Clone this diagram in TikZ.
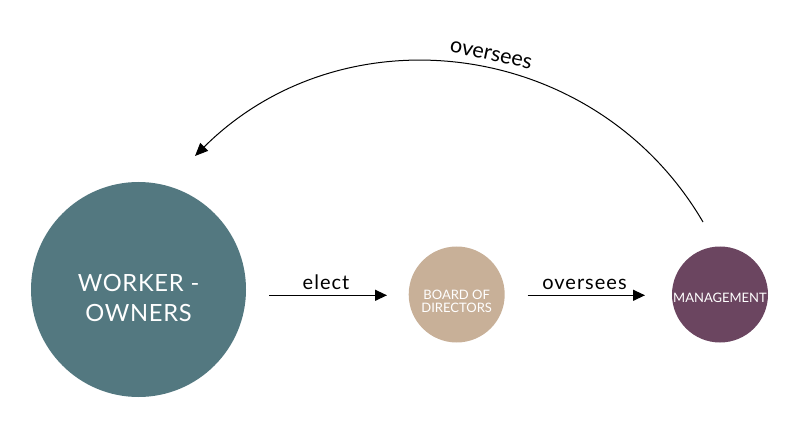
\documentclass[tikz,border=0pt]{standalone}
\usepackage{fontspec}
\setmainfont{Lato}
\newfontfamily\lblfont[LetterSpace=5]{Lato}
\newfontfamily\capfont[LetterSpace=3]{Lato}
\usetikzlibrary{arrows.meta}
\definecolor{workerc}{RGB}{83,120,128}
\definecolor{boardc}{RGB}{200,176,152}
\definecolor{mgmtc}{RGB}{107,69,96}
\tikzset{
  bubble/.style={circle,inner sep=0pt},
  btext/.style={text=white,align=center,inner sep=0pt},
  flow/.style={-{Triangle[length=12pt,width=11pt]},line width=1.3pt,black},
  lbl/.style={font=\lblfont\fontsize{20}{22}\selectfont,inner sep=0pt},
  arclbl/.style={font=\fontsize{21.5}{23}\selectfont,inner sep=0pt}
}
\begin{document}
\begin{tikzpicture}[x=1pt,y=-1pt]
\useasboundingbox (0,0) rectangle (790,422);
\node[bubble,fill=workerc,minimum size=215pt] (w) at (138.5,289.5) {};
\node[bubble,fill=boardc,minimum size=96pt] (b) at (456.7,294.5) {};
\node[bubble,fill=mgmtc,minimum size=96pt] (m) at (720,294.5) {};
\node[btext,font=\capfont\fontsize{23.7}{30}\selectfont] (wt) at (138.5,298.5) {WORKER -\\OWNERS};
\node[btext,font=\fontsize{13}{12.8}\selectfont] (bt) at (456.7,301) {BOARD OF\\DIRECTORS};
\node[btext,font=\fontsize{13}{14}\selectfont] (mt) at (720,298) {MANAGEMENT};
\coordinate (e1) at (269,295.3);
\coordinate (e2) at (387,295.3);
\coordinate (o1) at (527.5,295.3);
\coordinate (o2) at (645,295.3);
\coordinate (c1) at (703,222);
\coordinate (c2) at (195,156);
\draw[flow] (e1) -- (e2);
\draw[flow] (o1) -- (o2);
\node[lbl,anchor=base] (el) at (326,289) {elect};
\node[lbl,anchor=base] (ol) at (584.5,289) {oversees};
\draw[flow,line width=1pt,-{Triangle[length=13pt,width=11pt]}] (c1) .. controls (596,39) and (345,7) .. (c2);
\node[arclbl,rotate=-12] (t) at (491,55) {oversees};
\end{tikzpicture}
\end{document}
